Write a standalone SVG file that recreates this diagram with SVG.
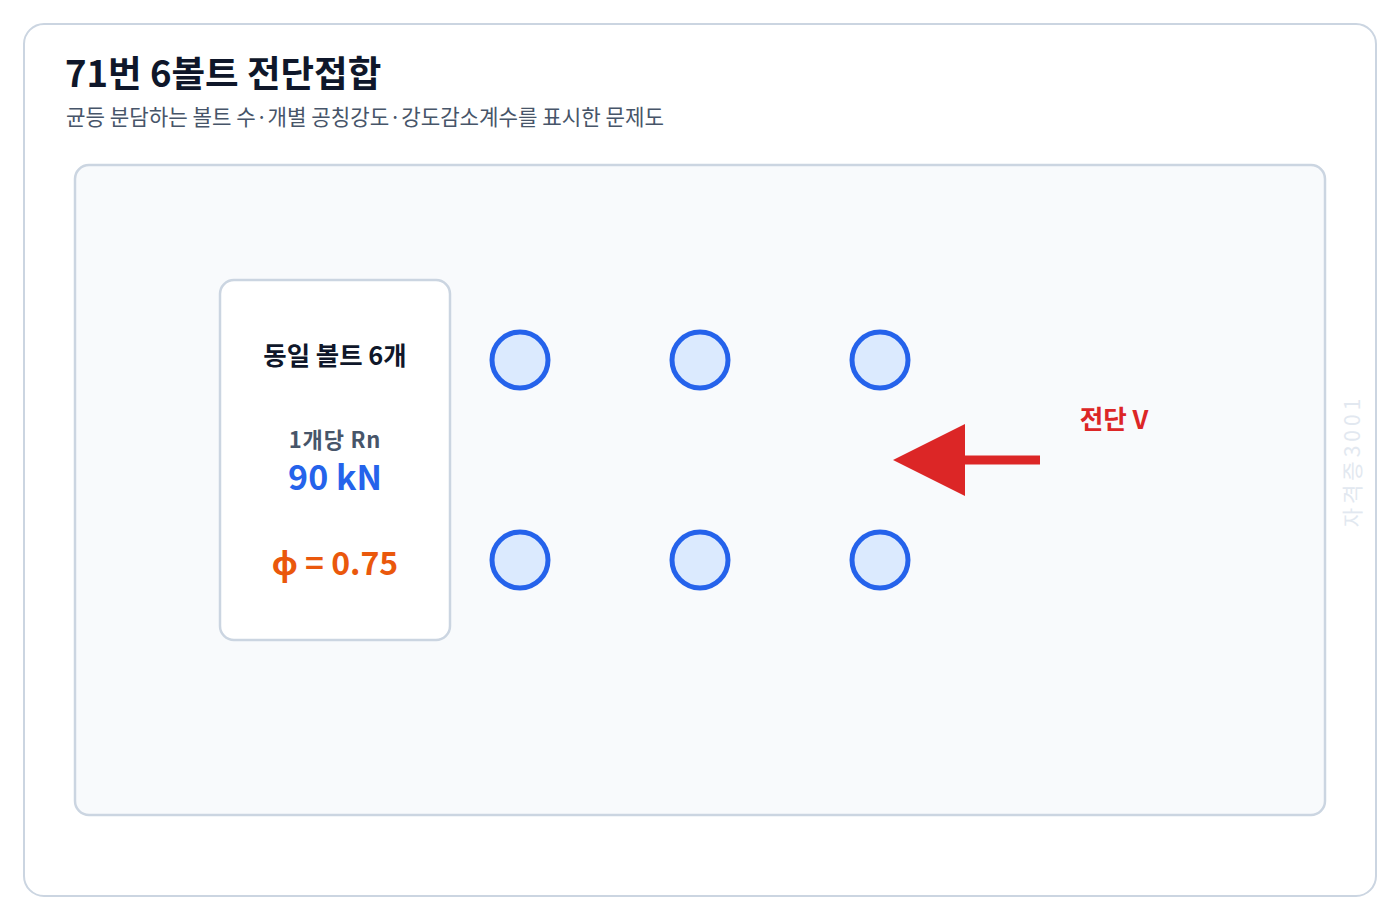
<svg xmlns="http://www.w3.org/2000/svg" width="1400" height="920" viewBox="0 0 1400 920">
<style>
text{font-family:"Noto Sans CJK KR","Noto Sans",sans-serif}
.bolt{fill:#dbeafe;stroke:#2563eb;stroke-width:5}
.c{text-anchor:middle;font-weight:700}
</style>
<rect x="0" y="0" width="1400" height="920" fill="#ffffff"/>
<rect x="24" y="24" width="1352" height="872" rx="20" fill="#ffffff" stroke="#cbd5e1" stroke-width="2"/>
<text x="65" y="87" font-size="36.5" font-weight="700" fill="#0f172a">71번 6볼트 전단접합</text>
<text x="66" y="125" font-size="21.2" fill="#475569">균등 분담하는 볼트 수·개별 공칭강도·강도감소계수를 표시한 문제도</text>
<rect x="75" y="165" width="1250" height="650" rx="14" fill="#f8fafc" stroke="#cbd5e1" stroke-width="2.5"/>
<g id="info">
<rect x="220" y="280" width="230" height="360" rx="14" fill="#ffffff" stroke="#cbd5e1" stroke-width="2.5"/>
<text class="c" x="335" y="365" font-size="25.4" fill="#0f172a">동일 볼트 6개</text>
<text class="c" x="335" y="448" font-size="22" letter-spacing="0.8" fill="#475569">1개당 Rn</text>
<text class="c" x="335" y="490" font-size="34" fill="#2563eb">90 kN</text>
<text class="c" x="335" y="575" font-size="32" fill="#ea580c">ϕ = 0.75</text>
</g>
<g id="bolt1"><circle class="bolt" cx="520" cy="360" r="28"/></g>
<g id="bolt2"><circle class="bolt" cx="700" cy="360" r="28"/></g>
<g id="bolt3"><circle class="bolt" cx="880" cy="360" r="28"/></g>
<g id="bolt4"><circle class="bolt" cx="520" cy="560" r="28"/></g>
<g id="bolt5"><circle class="bolt" cx="700" cy="560" r="28"/></g>
<g id="bolt6"><circle class="bolt" cx="880" cy="560" r="28"/></g>
<g id="connectors">
<line x1="1040" y1="460" x2="962" y2="460" stroke="#dc2626" stroke-width="9"/>
<path d="M965,424 L965,496 L893,460 Z" fill="#dc2626"/>
</g>
<g id="shear-label">
<text class="c" x="1114" y="429" font-size="25.6" fill="#dc2626">전단 V</text>
</g>
<text x="1360" y="461" font-size="21" fill="#e2e8f0" text-anchor="middle" letter-spacing="4" transform="rotate(-90 1360 461)">자격증3001</text>
</svg>
